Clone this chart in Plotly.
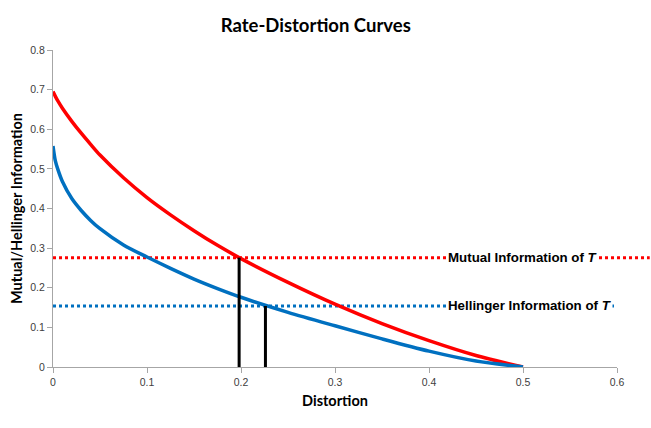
import plotly.graph_objects as go

# Data
distortion = [0, 0.0025, 0.005, 0.01, 0.02, 0.03, 0.04, 0.05, 0.075, 0.1, 0.125, 0.15,
              0.175, 0.2, 0.25, 0.3, 0.35, 0.4, 0.45, 0.5]
mutual_info = [0.695, 0.683, 0.672, 0.653, 0.620, 0.590, 0.562, 0.535, 0.4775, 0.4275,
               0.384, 0.344, 0.307, 0.2735, 0.2135, 0.1585, 0.1095, 0.0665, 0.029, 0.0]
hellinger_info = [0.558, 0.52, 0.500, 0.468, 0.425, 0.395, 0.370, 0.349, 0.308, 0.2775,
                  0.249, 0.222, 0.198, 0.176, 0.138, 0.104, 0.071, 0.040, 0.015, 0.0]

mutual_T = 0.276
hellinger_T = 0.154
d_mutual = 0.198
d_hellinger = 0.226

labels = ["Mutual Information of <i>T</i>", "Hellinger Information of <i>T</i>"]

RED = "#FF0000"
BLUE = "#0070C0"

fig = go.Figure()

fig.add_trace(go.Scatter(x=distortion, y=mutual_info, mode="lines",
                         line=dict(color=RED, width=3.5, shape="spline", smoothing=0.8),
                         showlegend=False))
fig.add_trace(go.Scatter(x=distortion, y=hellinger_info, mode="lines",
                         line=dict(color=BLUE, width=3.5, shape="spline", smoothing=0.8),
                         showlegend=False))

# vertical markers
fig.add_trace(go.Scatter(x=[d_mutual, d_mutual], y=[0, mutual_T], mode="lines",
                         line=dict(color="black", width=3), showlegend=False))
fig.add_trace(go.Scatter(x=[d_hellinger, d_hellinger], y=[0, hellinger_T], mode="lines",
                         line=dict(color="black", width=3), showlegend=False))

# dotted reference lines
fig.add_shape(type="line", xref="paper", yref="y", x0=0, x1=1.058, y0=mutual_T, y1=mutual_T,
              line=dict(color=RED, width=3, dash="3px,3px"), layer="below")
fig.add_shape(type="line", xref="paper", yref="y", x0=0, x1=1.0, y0=hellinger_T, y1=hellinger_T,
              line=dict(color=BLUE, width=3, dash="3px,3px"), layer="below")

for yv, txt in zip([mutual_T, hellinger_T], labels):
    fig.add_annotation(x=0.419, y=yv, xref="x", yref="y", text="<b>" + txt + "</b>",
                       showarrow=False, xanchor="left", yanchor="middle",
                       bgcolor="white", borderpad=0,
                       font=dict(family="Liberation Sans", size=13.3, color="black"))

axis_common = dict(showline=True, linecolor="#A6A6A6", linewidth=1, ticks="outside",
                   ticklen=5, tickcolor="#A6A6A6", showgrid=False, zeroline=False,
                   tickfont=dict(family="Liberation Sans", size=10.5, color="#404040"))

fig.update_layout(
    width=651, height=428,
    margin=dict(l=53, r=34, t=50, b=61),
    paper_bgcolor="white", plot_bgcolor="white",
    title=dict(text="<b>Rate-Distortion Curves</b>", x=0.485, xanchor="center", y=0.94,
               yanchor="middle", font=dict(family="Lato", size=18.5, color="black")),
    xaxis=dict(range=[0, 0.6], dtick=0.1, tick0=0,
               title=dict(text="<b>Distortion</b>", standoff=9,
                          font=dict(family="Lato", size=14.5, color="black")),
               tickformat="~g", **axis_common),
    yaxis=dict(range=[0, 0.8], dtick=0.1, tick0=0,
               title=dict(text="<b>Mutual/Hellinger Information</b>", standoff=4,
                          font=dict(family="Lato", size=14.5, color="black")),
               tickformat="~g", **axis_common),
)

fig.write_html("out.html")
